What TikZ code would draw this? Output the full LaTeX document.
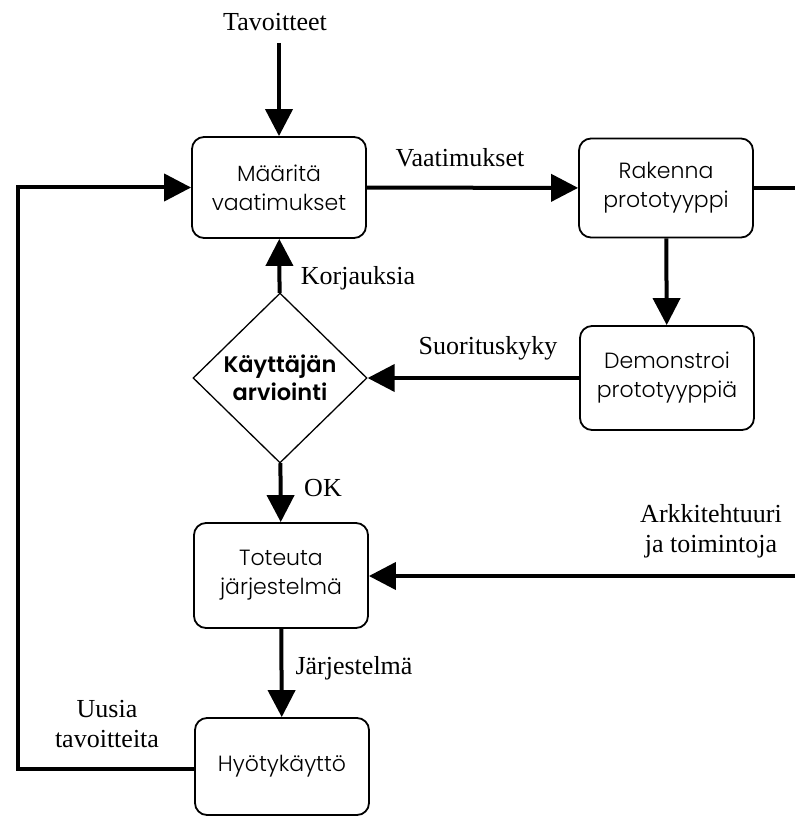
\documentclass[tikz,border=0pt]{standalone}
\usepackage{fontspec}
\setmainfont{Liberation Serif}
\newfontfamily\boxfont{Poppins Light}
\newfontfamily\decisionfont{Poppins SemiBold}
\usetikzlibrary{arrows.meta,shapes.geometric}

\begin{document}
\begin{tikzpicture}[x=1pt,y=-1pt,
  stepbox/.style={draw,line width=1.8pt,rounded corners=12pt,minimum width=174pt,
    align=center,inner sep=0pt,font=\boxfont\fontsize{22}{29}\selectfont},
  decision/.style={draw,diamond,aspect=1,line width=1.3pt,minimum width=174pt,
    minimum height=170pt,inner sep=0pt,align=center,
    font=\decisionfont\fontsize{22.5}{28}\selectfont},
  flow/.style={line width=4pt,line join=miter,-{Triangle[length=27pt,width=27pt]}},
  link/.style={line width=4pt,line join=miter},
  lbl/.style={font=\fontsize{26}{30}\selectfont,align=center,inner sep=0pt}
]
\useasboundingbox (0,0) rectangle (795,818);

% process steps
\node[stepbox,minimum height=101pt] (def)   at (279,187.5) {Määritä\\vaatimukset};
\node[stepbox,minimum height=99pt]  (build) at (666,188)   {Rakenna\\prototyyppi};
\node[stepbox,minimum height=104pt] (demo)  at (667,378)   {Demonstroi\\prototyyppiä};
\node[decision]                     (eval)  at (280,378)   {Käyttäjän\\arviointi};
\node[stepbox,minimum height=105pt] (impl)  at (281,575.5) {Toteuta\\järjestelmä};
\node[stepbox,minimum height=97pt]  (use)   at (282,766.5) {Hyötykäyttö};

% inputs and loose ends
\node[lbl] (goals) at (275,22) {Tavoitteet};
\coordinate (buildout) at (795,188);
\coordinate (archin)   at (795,576);
\coordinate (loopbot)  at (18,769);
\coordinate (looptop)  at (18,187.5);

% connectors
\draw[flow] (goals.south -| def.north) ++(0,12) -- (def.north);
\draw[flow] (def) -- (build);
\draw[link] (build) -- (buildout);
\draw[flow] (build) -- (demo);
\draw[flow] (demo) -- (eval);
\draw[flow] (eval) -- (def);
\draw[flow] (eval) -- (impl);
\draw[flow] (archin) -- (impl.east |- archin);
\draw[flow] (impl) -- (use);
\draw[flow] (use.west |- loopbot) -- (loopbot) -- (looptop) -- (def.west);

% connector labels
\node[lbl] (lreq)  at (460,158) {Vaatimukset};
\node[lbl] (lfix)  at (358,278) {Korjauksia};
\node[lbl] (lperf) at (488,348) {Suorituskyky};
\node[lbl] (lok)   at (323,488) {OK};
\node[lbl] (larch) at (711,531) {Arkkitehtuuri\\ja toimintoja};
\node[lbl] (lsys)  at (354,668) {Järjestelmä};
\node[lbl] (lnew)  at (107,724) {Uusia\\tavoitteita};
\end{tikzpicture}
\end{document}
